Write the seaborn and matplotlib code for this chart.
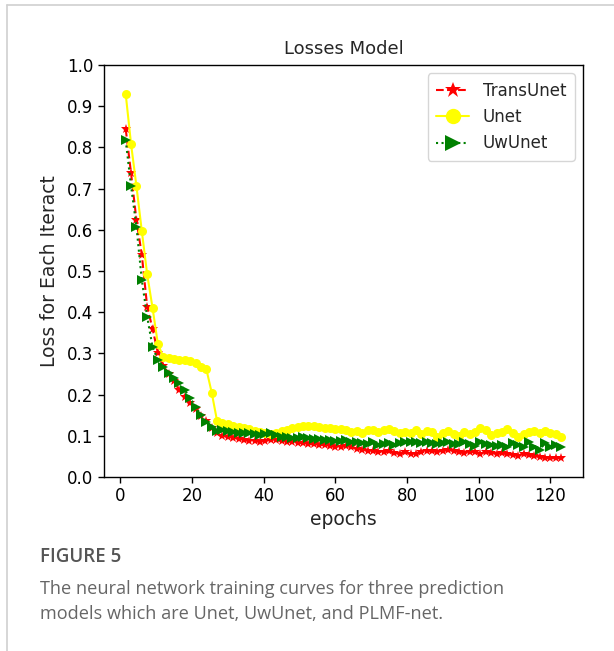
import numpy as np
import pandas as pd
import matplotlib
matplotlib.use("Agg")
import matplotlib.pyplot as plt
import seaborn as sns
from matplotlib.lines import Line2D

# ---- data ----
epochs = [1.5 * k for k in range(1, 83)]

trans_unet = [0.845, 0.737, 0.624, 0.539, 0.413, 0.36, 0.30, 0.27, 0.25, 0.232,
              0.21, 0.195, 0.18, 0.165, 0.148, 0.135, 0.12, 0.108, 0.10, 0.097,
              0.095, 0.093, 0.09, 0.088, 0.087, 0.086, 0.088, 0.09, 0.089, 0.087,
              0.086, 0.085, 0.083, 0.082, 0.08, 0.079, 0.078, 0.077, 0.075, 0.074,
              0.073, 0.076, 0.072, 0.069, 0.066, 0.064, 0.062, 0.061, 0.06, 0.062,
              0.058, 0.056, 0.06, 0.055, 0.057, 0.06, 0.062, 0.063, 0.061, 0.064,
              0.066, 0.063, 0.06, 0.058, 0.061, 0.06, 0.057, 0.061, 0.058, 0.056,
              0.058, 0.055, 0.053, 0.052, 0.057, 0.053, 0.05, 0.049, 0.046, 0.045,
              0.046, 0.045]

unet = [0.93, 0.808, 0.706, 0.597, 0.492, 0.41, 0.322, 0.292, 0.288, 0.286,
        0.285, 0.283, 0.281, 0.276, 0.268, 0.262, 0.205, 0.136, 0.132, 0.129,
        0.125, 0.121, 0.118, 0.116, 0.112, 0.110, 0.106, 0.104, 0.108, 0.112,
        0.115, 0.118, 0.121, 0.124, 0.125, 0.123, 0.121, 0.12, 0.118, 0.117,
        0.116, 0.115, 0.11, 0.112, 0.108, 0.115, 0.113, 0.11, 0.114, 0.116,
        0.112, 0.106, 0.11, 0.108, 0.114, 0.105, 0.112, 0.11, 0.098, 0.108,
        0.112, 0.104, 0.10, 0.11, 0.105, 0.11, 0.118, 0.114, 0.102, 0.108,
        0.11, 0.116, 0.108, 0.098, 0.104, 0.11, 0.112, 0.108, 0.112, 0.106,
        0.104, 0.096]

uw_unet = [0.818, 0.706, 0.608, 0.478, 0.389, 0.315, 0.284, 0.268, 0.252, 0.24,
           0.227, 0.211, 0.191, 0.171, 0.15, 0.134, 0.122, 0.112, 0.114, 0.112,
           0.11, 0.108, 0.106, 0.107, 0.105, 0.103, 0.104, 0.108, 0.102, 0.098,
           0.096, 0.095, 0.094, 0.097, 0.095, 0.093, 0.092, 0.09, 0.089, 0.088,
           0.087, 0.089, 0.085, 0.084, 0.082, 0.08, 0.084, 0.078, 0.08, 0.083,
           0.078, 0.082, 0.085, 0.084, 0.086, 0.083, 0.086, 0.082, 0.08, 0.083,
           0.085, 0.081, 0.079, 0.084, 0.08, 0.076, 0.086, 0.08, 0.078, 0.075,
           0.077, 0.074, 0.082, 0.078, 0.072, 0.085, 0.074, 0.066, 0.082, 0.074,
           0.078, 0.074]

series_names = ["TransUnet", "Unet", "UwUnet"]
x_ticks = [0, 20, 40, 60, 80, 100, 120]
y_ticks = [0.0, 0.1, 0.2, 0.3, 0.4, 0.5, 0.6, 0.7, 0.8, 0.9, 1.0]

# ---- plot ----
sns.set_style("ticks")
plt.rcParams["font.family"] = ["DejaVu Sans"]
plt.rcParams["font.sans-serif"] = ["DejaVu Sans"]

fig = plt.figure(figsize=(6.14, 6.51), dpi=100)
ax = fig.add_axes([104 / 614, 1 - 477 / 651, (583 - 104) / 614, (477 - 65) / 651])

styles = [
    dict(color="red", linestyle="--", marker="*", markersize=7),
    dict(color="yellow", linestyle="-", marker="o", markersize=6.5),
    dict(color="green", linestyle=":", marker=">", markersize=6.5),
]
for name, vals, st in zip(series_names, [trans_unet, unet, uw_unet], styles):
    sns.lineplot(x=epochs, y=vals, ax=ax, linewidth=1.5,
                 markeredgewidth=0, label=name, **st)

ax.set_xlim(-4.55, 129.1)
ax.set_ylim(0, 1.0)
ax.set_xticks(x_ticks)
ax.set_yticks(y_ticks)
ax.tick_params(labelsize=12, direction="out", length=4, width=1, colors="black")
for s in ax.spines.values():
    s.set_visible(True)
    s.set_color("black")
    s.set_linewidth(1)
ax.set_title("Losses Model", fontsize=13, pad=8, family="DejaVu Sans")
ax.set_xlabel("epochs", fontsize=13.5, labelpad=3, family="DejaVu Sans")
ax.set_ylabel("Loss for Each Iteract", fontsize=13.5, labelpad=6, family="DejaVu Sans")
for lab in ax.get_xticklabels() + ax.get_yticklabels():
    lab.set_family("DejaVu Sans")

handles = [Line2D([], [], linewidth=1.5, **st) for st in styles]
for h in handles:
    h.set_markeredgewidth(0)
ax.legend(handles, series_names, loc="upper right", markerscale=1.7,
          frameon=True, handlelength=2.0, borderpad=0.5, labelspacing=0.5,
          prop={"family": "DejaVu Sans", "size": 12})

# page frame lines
fig.add_artist(Line2D([7 / 614, 1.0], [1 - 5 / 651, 1 - 5 / 651], transform=fig.transFigure,
                      color="#d0d0d0", linewidth=1.2))
fig.add_artist(Line2D([7 / 614, 7 / 614], [0.0, 1 - 5 / 651], transform=fig.transFigure,
                      color="#d0d0d0", linewidth=1.2))

# caption
fig.text(40 / 614, 1 - 557 / 651, "FIGURE 5", fontsize=13.5, fontweight="semibold",
         color="#555555", family=["Open Sans", "DejaVu Sans"], va="center", ha="left")
fig.text(40 / 614, 1 - 589 / 651, "The neural network training curves for three prediction",
         fontsize=13.1, color="#666666", family=["Open Sans", "DejaVu Sans"], va="center", ha="left")
fig.text(40 / 614, 1 - 614 / 651, "models which are Unet, UwUnet, and PLMF-net.",
         fontsize=13.1, color="#666666", family=["Open Sans", "DejaVu Sans"], va="center", ha="left")

fig.savefig("out.png", dpi=100, facecolor="white")
